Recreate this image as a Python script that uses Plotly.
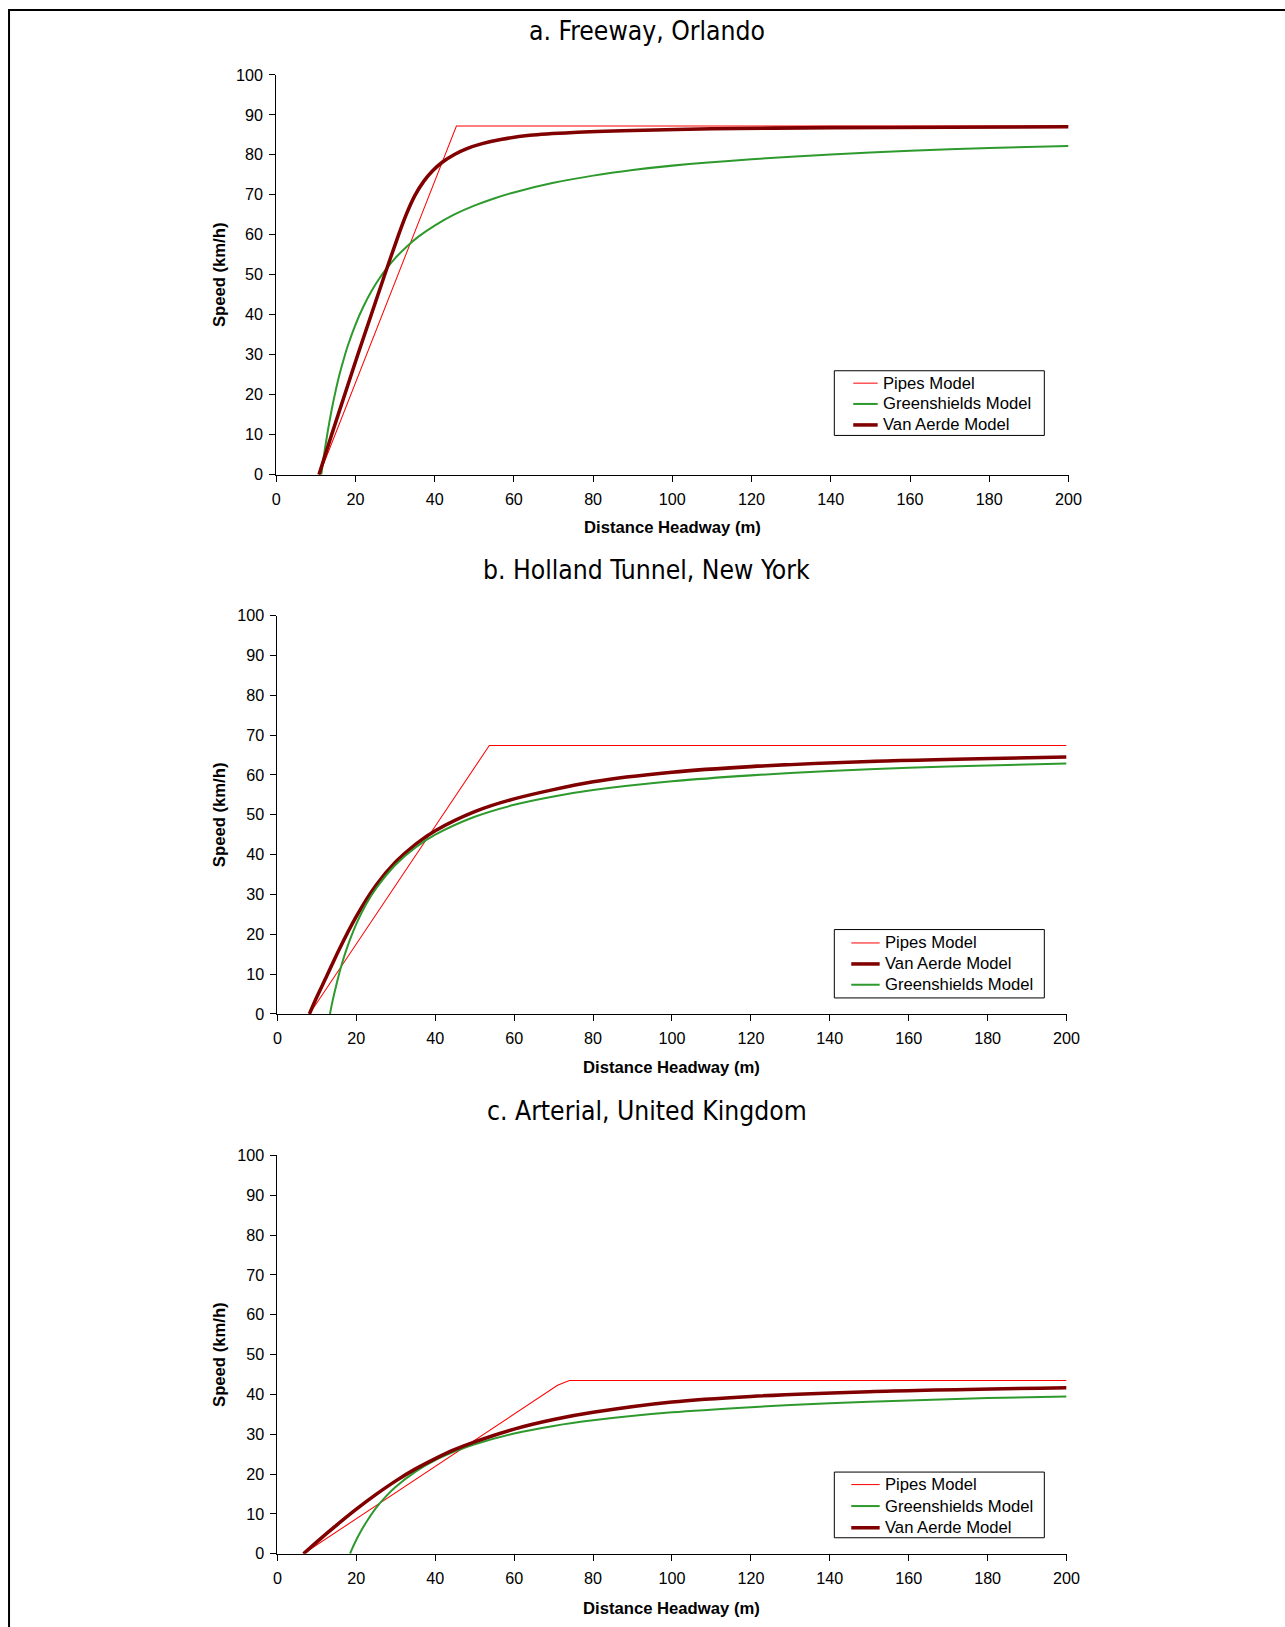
import plotly.graph_objects as go

# Empirical mapping between figure pixels and the captured picture:
# picture = S * (figure + D).  Positions below are picture (window) pixels.
S = 0.9894
DX, DY = 4.0, 7.5
W, H = 1300, 1645

# ---------------- data ----------------
titles = ["a. Freeway, Orlando", "b. Holland Tunnel, New York", "c. Arterial, United Kingdom"]

# a. Freeway, Orlando
pipes1_x = [10.9, 45.5, 200]
pipes1_y = [0, 87.2, 87.2]
green1_x = [11.4, 12, 13, 14, 15, 16, 17, 18, 20, 22, 24, 26, 28, 30, 33, 36, 40, 45, 50, 55, 60, 70, 80, 90, 100, 120, 140, 160, 180, 200]
green1_y = [0, 4.4, 10.7, 16.2, 20.9, 25.1, 28.7, 32.0, 37.5, 42.0, 45.8, 49.0, 51.7, 54.1, 57.1, 59.6, 62.3, 65.1, 67.3, 69.1, 70.6, 73.0, 74.8, 76.2, 77.3, 78.9, 80.1, 81.0, 81.7, 82.2]
va1_x = [10.8, 14.0, 17.3, 20.6, 24.0, 27.4, 30.9, 32.8, 35.0, 37.2, 39.5, 42, 45, 48, 52, 57, 64, 75, 90, 110, 140, 170, 200]
va1_y = [0, 10, 20, 30, 40, 50, 60, 65, 69.8, 73.3, 76.0, 78.2, 80.1, 81.5, 82.8, 83.9, 84.9, 85.6, 86.1, 86.5, 86.8, 86.9, 87.0]

# b. Holland Tunnel, New York
pipes2_x = [8.1, 53.7, 200]
pipes2_y = [0, 67.4, 67.4]
green2_x = [13.3, 14, 15, 16, 17.5, 20, 22.5, 25, 30, 35, 40, 50, 60, 70, 80, 100, 120, 140, 160, 180, 200]
green2_y = [0, 3.4, 7.6, 11.4, 16.2, 22.6, 27.6, 31.5, 37.5, 41.8, 45.0, 49.5, 52.5, 54.6, 56.2, 58.4, 59.9, 61.0, 61.8, 62.4, 62.9]
va2_x = [8.1, 10, 12.5, 15.4, 20, 25, 30, 35, 40, 50, 60, 80, 100, 120, 150, 200]
va2_y = [0, 4.3, 9.5, 15.7, 24.5, 32.3, 38.2, 42.6, 46.0, 50.8, 54.0, 58.3, 60.7, 62.1, 63.4, 64.5]

# c. Arterial, United Kingdom
pipes3_x = [6.6, 71.0, 74.0, 200]
pipes3_y = [0, 42.3, 43.5, 43.5]
green3_x = [18.4, 19, 20, 21, 22.5, 25, 27.5, 30, 35, 40, 45, 50, 60, 70, 80, 100, 120, 140, 160, 180, 200]
green3_y = [0, 1.4, 3.5, 5.4, 7.9, 11.5, 14.4, 16.8, 20.6, 23.5, 25.7, 27.5, 30.2, 32.1, 33.5, 35.5, 36.8, 37.8, 38.5, 39.1, 39.5]
va3_x = [6.6, 10, 15, 20, 25, 30, 35, 40, 45, 50, 60, 70, 80, 100, 120, 150, 200]
va3_y = [0, 3.0, 7.2, 11.2, 14.9, 18.3, 21.3, 23.9, 26.2, 28.1, 31.3, 33.7, 35.5, 38.1, 39.5, 40.7, 41.7]

x_ticks = [0, 20, 40, 60, 80, 100, 120, 140, 160, 180, 200]
y_ticks = [0, 10, 20, 30, 40, 50, 60, 70, 80, 90, 100]

# legend order per panel
legend_orders = [
    ["pipes", "green", "va"],
    ["pipes", "va", "green"],
    ["pipes", "green", "va"],
]
panels = [
    {"pipes": (pipes1_x, pipes1_y), "green": (green1_x, green1_y), "va": (va1_x, va1_y)},
    {"pipes": (pipes2_x, pipes2_y), "green": (green2_x, green2_y), "va": (va2_x, va2_y)},
    {"pipes": (pipes3_x, pipes3_y), "green": (green3_x, green3_y), "va": (va3_x, va3_y)},
]

# ---------------- styling / layout ----------------
names = {"pipes": "Pipes Model", "green": "Greenshields Model", "va": "Van Aerde Model"}
styles = {
    "pipes": dict(color="#FF0000", width=1, shape="linear"),
    "green": dict(color="#2E9A2E", width=2, shape="spline"),
    "va": dict(color="#800000", width=3.5, shape="spline"),
}

FONT = "Liberation Sans, Arial, sans-serif"
TITLE_FONT = "Liberation Sans Narrow, Arial Narrow, DejaVu Sans Condensed, sans-serif"
F = 1.0 / S  # font / size compensation

# window-pixel geometry of each panel: (x0, x200, y100, y0)
geom = [
    (276.0, 1071.0, 73.3, 473.3),
    (277.3, 1069.0, 614.3, 1012.7),
    (277.3, 1069.0, 1154.3, 1552.7),
]
title_y = [29, 569, 1110]
xtitle_y = [526, 1066, 1607]
legend_box = [
    (836, 1046.7, 369.3, 434.0),
    (836, 1046.7, 928.3, 996.7),
    (836, 1046.7, 1471.0, 1536.7),
]
legend_rows = [
    [381.7, 402.5, 423.5],
    [941.7, 962.7, 983.5],
    [1483.5, 1505.0, 1526.7],
]
legend_sample = [(855, 879.5, 882.5), (853, 881.5, 885), (853, 881.5, 885)]

def px(x):
    return (x / S - DX) / W

def py(y):
    return 1 - (y / S - DY) / H

fig = go.Figure()
layout = dict(
    width=W, height=H,
    margin=dict(l=0, r=0, t=0, b=0),
    paper_bgcolor="white", plot_bgcolor="white",
    font=dict(family=FONT, size=16 * F, color="black"),
    showlegend=False,
    annotations=[], shapes=[],
)

for i in range(3):
    ax = "" if i == 0 else str(i + 1)
    for key in legend_orders[i]:
        xs, ys = panels[i][key]
        st = styles[key]
        fig.add_trace(go.Scatter(
            x=xs, y=ys, mode="lines", name=names[key],
            line=dict(color=st["color"], width=st["width"] * F, shape=st["shape"], smoothing=0.8),
            xaxis="x" + ax, yaxis="y" + ax, hoverinfo="skip",
        ))
    x0, x1, yt, yb = geom[i]
    layout["xaxis" + ax] = dict(
        domain=[px(x0), px(x1)], range=[0, 200], anchor="y" + ax,
        tickvals=x_ticks, ticks="outside", ticklen=6, tickcolor="black",
        showline=True, linecolor="black", linewidth=1, showgrid=False, zeroline=False,
        tickfont=dict(size=16 * F, family=FONT), ticklabelstandoff=4, fixedrange=True,
    )
    layout["yaxis" + ax] = dict(
        domain=[py(yb), py(yt)], range=[0, 100], anchor="x" + ax,
        tickvals=y_ticks, ticks="outside", ticklen=6, tickcolor="black",
        showline=True, linecolor="black", linewidth=1, showgrid=False, zeroline=False,
        tickfont=dict(size=16 * F, family=FONT), ticklabelstandoff=3, fixedrange=True,
    )
    # panel title
    layout["annotations"].append(dict(
        text=titles[i], x=px(648), y=py(title_y[i]), xref="paper", yref="paper",
        showarrow=False, xanchor="center", yanchor="middle",
        font=dict(family=TITLE_FONT, size=26 * F, color="black"),
    ))
    # axis titles
    layout["annotations"].append(dict(
        text="<b>Distance Headway (m)</b>", x=px((x0 + x1) / 2), y=py(xtitle_y[i]),
        xref="paper", yref="paper", showarrow=False, xanchor="center", yanchor="middle",
        font=dict(family=FONT, size=16.5 * F, color="black"),
    ))
    layout["annotations"].append(dict(
        text="<b>Speed (km/h)</b>", x=px(219), y=py((yt + yb) / 2),
        xref="paper", yref="paper", showarrow=False, xanchor="center", yanchor="middle",
        textangle=-90, font=dict(family=FONT, size=16.5 * F, color="black"),
    ))
    # legend box
    lx0, lx1, ly0, ly1 = legend_box[i]
    layout["shapes"].append(dict(
        type="rect", xref="paper", yref="paper",
        x0=px(lx0), x1=px(lx1), y0=py(ly1), y1=py(ly0),
        line=dict(color="black", width=1), fillcolor="white", layer="above",
    ))
    sx0, sx1, tx = legend_sample[i]
    for key, ry in zip(legend_orders[i], legend_rows[i]):
        st = styles[key]
        layout["shapes"].append(dict(
            type="line", xref="paper", yref="paper",
            x0=px(sx0), x1=px(sx1), y0=py(ry), y1=py(ry),
            line=dict(color=st["color"], width=st["width"] * F), layer="above",
        ))
        layout["annotations"].append(dict(
            text=names[key], x=px(tx), y=py(ry), xref="paper", yref="paper",
            showarrow=False, xanchor="left", yanchor="middle",
            font=dict(family=FONT, size=16.5 * F, color="black"),
        ))

# outer frame lines (top and left)
top_y = min(1.0, py(5.7))
layout["shapes"].append(dict(type="line", xref="paper", yref="paper",
                             x0=px(8), x1=1.0, y0=top_y - 1.0 / H, y1=top_y - 1.0 / H,
                             line=dict(color="black", width=2)))
layout["shapes"].append(dict(type="line", xref="paper", yref="paper",
                             x0=px(8), x1=px(8), y0=top_y, y1=0.0,
                             line=dict(color="black", width=2)))

fig.update_layout(**layout)
fig.write_html("out.html")
